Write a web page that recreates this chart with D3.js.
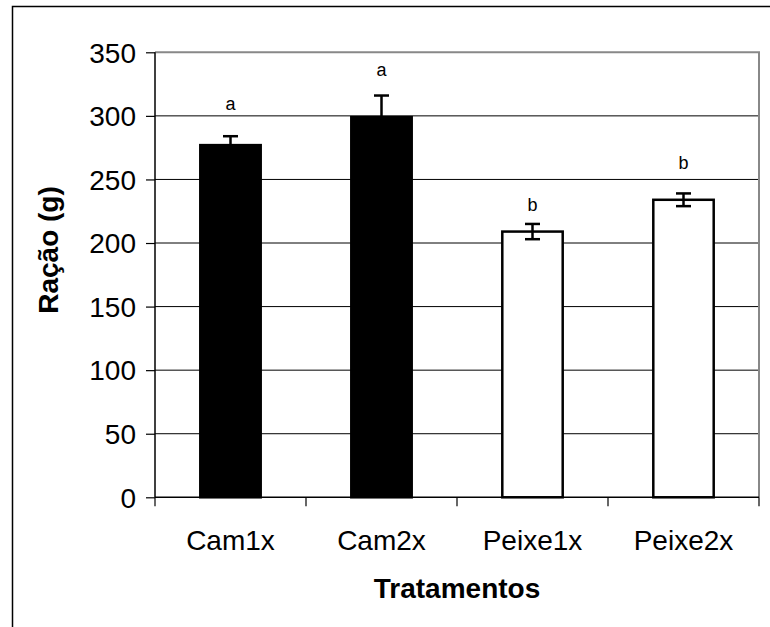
<!DOCTYPE html>
<html>
<head>
<meta charset="utf-8">
<script src="https://cdn.jsdelivr.net/npm/d3@7"></script>
<style>
  html, body { margin: 0; padding: 0; background: #fff; }
  svg { display: block; }
  text { font-family: "Liberation Sans", Arial, sans-serif; fill: #000; }
</style>
</head>
<body>
<svg id="chart" width="770" height="627"></svg>
<script>
// ---- data ----
const categories = ["Cam1x", "Cam2x", "Peixe1x", "Peixe2x"];
const means      = [277, 299, 209, 234];
const errors     = [7, 17, 6, 5];
const letters    = ["a", "a", "b", "b"];
const letterLevels = [305, 331, 225, 258];   // annotation heights (g)
const filled     = [true, true, false, false];
const yTicks     = [0, 50, 100, 150, 200, 250, 300, 350];

// ---- layout ----
const svg = d3.select("#chart");
const pLeft = 155, pRight = 759, pTop = 52.3, pBottom = 497.3;

const x = d3.scaleBand().domain(categories).range([pLeft, pRight])
  .paddingInner(0.6).paddingOuter(0.3);
const y = d3.scaleLinear().domain([0, 350]).range([pBottom, pTop]);

// outer border (extends past right/bottom edges)
svg.append("rect").attr("x", 12.5).attr("y", 6.5).attr("width", 900).attr("height", 900)
  .attr("fill", "none").attr("stroke", "#000").attr("stroke-width", 1.5);

// gridlines
svg.append("g").selectAll("line").data(yTicks.filter(d => d > 0 && d < 350)).join("line")
  .attr("x1", pLeft).attr("x2", pRight)
  .attr("y1", d => y(d)).attr("y2", d => y(d))
  .attr("stroke", "#000").attr("stroke-width", 1);

// plot border top/right (gray)
svg.append("path")
  .attr("d", `M${pLeft},${y(350)}H${pRight}V${pBottom}`)
  .attr("fill", "none").attr("stroke", "#888").attr("stroke-width", 2);

// bars
svg.append("g").selectAll("rect").data(categories).join("rect")
  .attr("x", d => x(d)).attr("width", x.bandwidth())
  .attr("y", (d, i) => y(means[i])).attr("height", (d, i) => y(0) - y(means[i]))
  .attr("fill", (d, i) => filled[i] ? "#000" : "#fff")
  .attr("stroke", "#000").attr("stroke-width", 2.5);

// error bars
const eb = svg.append("g").attr("stroke", "#000").attr("stroke-width", 2.5);
categories.forEach((c, i) => {
  const cx = x(c) + x.bandwidth() / 2;
  const hi = y(means[i] + errors[i]), lo = y(means[i] - errors[i]);
  eb.append("line").attr("x1", cx).attr("x2", cx).attr("y1", hi).attr("y2", lo);
  eb.append("line").attr("x1", cx - 7.5).attr("x2", cx + 7.5).attr("y1", hi).attr("y2", hi);
  eb.append("line").attr("x1", cx - 7.5).attr("x2", cx + 7.5).attr("y1", lo).attr("y2", lo);
});

// letters
svg.append("g").selectAll("text").data(categories).join("text")
  .attr("x", d => x(d) + x.bandwidth() / 2)
  .attr("y", (d, i) => y(letterLevels[i]))
  .attr("text-anchor", "middle").attr("font-size", 18)
  .text((d, i) => letters[i]);

// y axis
const yAxis = d3.axisLeft(y).tickValues(yTicks).tickSize(9).tickPadding(10);
const gy = svg.append("g").attr("transform", `translate(${pLeft},0)`).call(yAxis);
gy.select(".domain").attr("stroke", "#000").attr("stroke-width", 1.5)
  .attr("d", `M0,${pBottom}V${pTop}`);
gy.selectAll(".tick line").attr("stroke", "#000").attr("stroke-width", 1.2);
gy.selectAll(".tick text").attr("font-size", 28).attr("dy", "0.35em")
  .style("font-family", "'Liberation Sans', Arial, sans-serif");

// x axis: ticks at category boundaries
const boundaries = d3.range(categories.length + 1).map(i => pLeft + i * x.step());
svg.append("line").attr("x1", pLeft).attr("x2", pRight).attr("y1", pBottom).attr("y2", pBottom)
  .attr("stroke", "#000").attr("stroke-width", 1.5);
svg.append("g").selectAll("line").data(boundaries).join("line")
  .attr("x1", d => d).attr("x2", d => d).attr("y1", pBottom).attr("y2", pBottom + 9)
  .attr("stroke", "#000").attr("stroke-width", 1.2);
svg.append("g").selectAll("text").data(categories).join("text")
  .attr("x", d => x(d) + x.bandwidth() / 2).attr("y", 550)
  .attr("text-anchor", "middle").attr("font-size", 28).text(d => d);

// axis titles
svg.append("text").attr("x", (pLeft + pRight) / 2).attr("y", 598)
  .attr("text-anchor", "middle").attr("font-size", 28).attr("font-weight", "bold")
  .text("Tratamentos");
svg.append("text").attr("transform", "translate(58,250) rotate(-90)")
  .attr("text-anchor", "middle").attr("font-size", 28).attr("font-weight", "bold")
  .text("Ração (g)");
</script>
</body>
</html>
